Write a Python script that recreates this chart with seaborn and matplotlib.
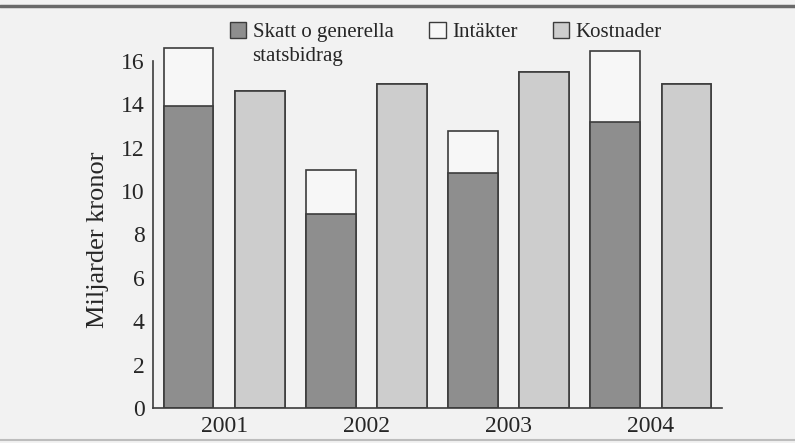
import matplotlib
matplotlib.use("Agg")
import matplotlib.pyplot as plt
from matplotlib.patches import Patch
from matplotlib.lines import Line2D
import seaborn as sns
import pandas as pd

# values (billion SEK)
years = ["2001", "2002", "2003", "2004"]
skatt = [13.9, 8.95, 10.85, 13.2]
intakter = [2.7, 2.0, 1.9, 3.25]
kostnader = [14.6, 14.95, 15.5, 14.95]

yticks = [0, 2, 4, 6, 8, 10, 12, 14, 16]

c_skatt = "#8e8e8e"
c_int = "#f7f7f7"
c_kost = "#cdcdcd"
edge = "#3c3c3c"
bg = "#f2f2f2"

sns.set_style("white")
plt.rcParams["font.family"] = ["Liberation Serif", "DejaVu Serif"]

total = [s + i for s, i in zip(skatt, intakter)]
df_top = pd.DataFrame({
    "year": years * 2,
    "serie": ["Inkomster"] * 4 + ["Kostnader"] * 4,
    "value": total + kostnader,
})
df_bottom = pd.DataFrame({
    "year": years * 2,
    "serie": ["Inkomster"] * 4 + ["Kostnader"] * 4,
    "value": skatt + kostnader,
})

fig = plt.figure(figsize=(7.95, 4.43), dpi=100, facecolor=bg)
ax = fig.add_axes([153 / 795, 1 - 408 / 443, (722 - 153) / 795, 17 * 21.7 / 443])
ax.set_facecolor(bg)

# white (income total) + light grey (costs), then the tax part on top
for d, col in [(df_top, c_int), (df_bottom, c_skatt)]:
    sns.barplot(data=d, x="year", y="value", hue="serie",
                hue_order=["Inkomster", "Kostnader"],
                palette={"Inkomster": col, "Kostnader": c_kost},
                width=1.0, gap=0.3, edgecolor=edge, linewidth=1.2,
                errorbar=None, legend=False, ax=ax)

ax.set_xlim(-0.5, 3.5)
ax.set_ylim(0, 17)
ax.set_yticks(yticks)
ax.set_xlabel("")
ax.set_ylabel("Miljarder kronor", fontsize=19)
ax.yaxis.set_label_coords(-0.078, 0.455)

for s in ["top", "right"]:
    ax.spines[s].set_visible(False)
for s in ["left", "bottom"]:
    ax.spines[s].set_color(edge)
    ax.spines[s].set_linewidth(1.2)
ax.spines["left"].set_bounds(0, 16)

ax.tick_params(axis="y", direction="in", length=9, width=1.2, color=edge,
               labelsize=17, pad=6)
ax.tick_params(axis="x", which="major", length=0, labelsize=17, pad=6)
ax.set_xticks([0.5, 1.5, 2.5, 3.5], minor=True)
ax.tick_params(axis="x", which="minor", direction="in", length=9, width=1.2,
               color=edge)

handles = [Patch(facecolor=c, edgecolor=edge, linewidth=1.0) for c in (c_skatt, c_int, c_kost)]
fig.legend(handles, ["Skatt o generella", "Intäkter", "Kostnader"],
           loc="upper left", bbox_to_anchor=(211 / 795, 1 - 3 / 443), ncol=3,
           frameon=False, fontsize=15, handlelength=0.8, handleheight=0.8,
           handletextpad=0.3, columnspacing=1.7)
fig.text(252 / 795, 1 - 57 / 443, "statsbidrag", fontsize=15, va="center", ha="left")

# scan border lines
fig.add_artist(Line2D([0, 1], [1 - 6 / 443, 1 - 6 / 443], color="#6a6a6a", lw=2.5))
fig.add_artist(Line2D([0, 1], [1 - 440 / 443, 1 - 440 / 443], color="#bdbdbd", lw=1.5))

fig.savefig("out.png", dpi=100, facecolor=bg)
